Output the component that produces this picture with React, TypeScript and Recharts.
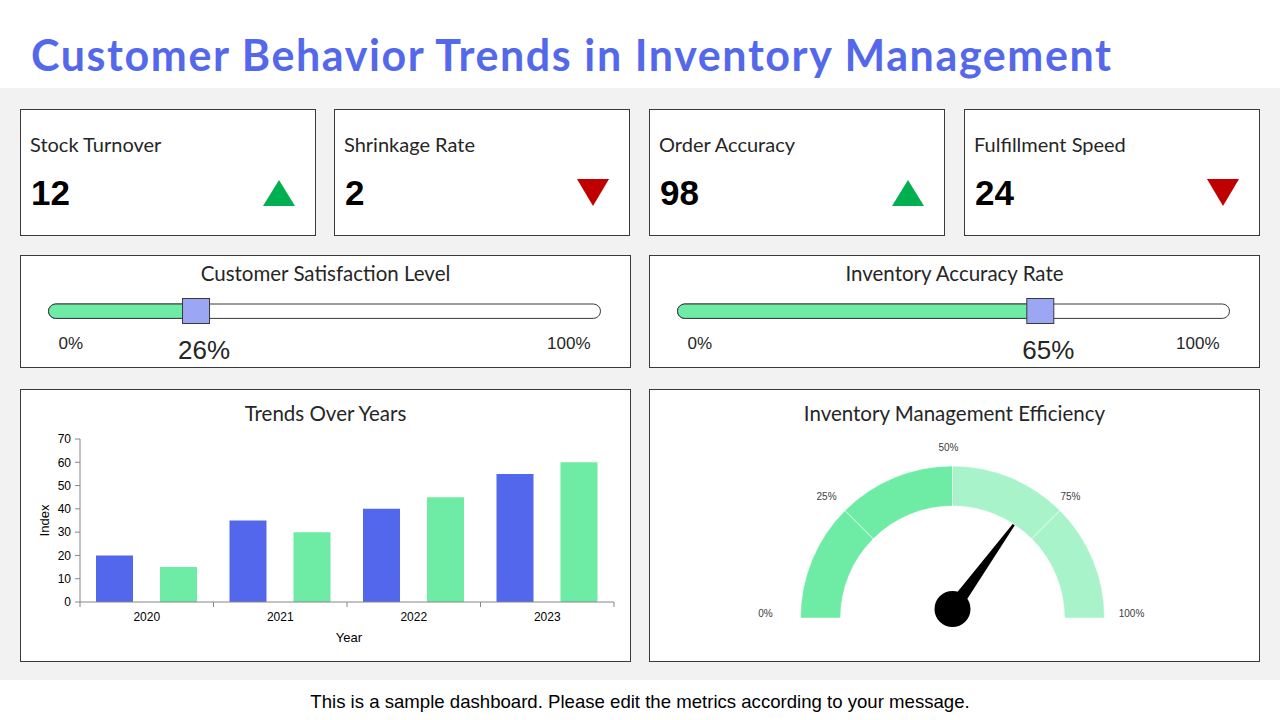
import React from "react";
import {
  Bar,
  BarChart,
  Cell,
  Customized,
  Pie,
  PieChart,
  ReferenceDot,
  XAxis,
  YAxis,
} from "recharts";

const TITLE = "Customer Behavior Trends in Inventory Management";
const FOOTER =
  "This is a sample dashboard. Please edit the metrics according to your message.";

const KPI_LABELS = ["Stock Turnover", "Shrinkage Rate", "Order Accuracy", "Fulfillment Speed"];
const KPI_VALUES = [12, 2, 98, 24];
const KPI_TRENDS = ["up", "down", "up", "down"];

const SLIDER_TITLES = ["Customer Satisfaction Level", "Inventory Accuracy Rate"];
const SLIDER_VALUES = [26, 65];
const SLIDER_TICKS = [0, 100];

const YEARS = ["2020", "2021", "2022", "2023"];
const SERIES_BLUE = [20, 35, 40, 55];
const SERIES_GREEN = [15, 30, 45, 60];
const Y_TICKS = [0, 10, 20, 30, 40, 50, 60, 70];

const GAUGE_BANDS = [25, 25, 25, 25];
const GAUGE_TICKS = [0, 25, 50, 75, 100];
const GAUGE_VALUE = 70;

const BLUE = "#5367EC";
const GREEN = "#6EEBA5";
const LIGHT_GREEN = "#A9F3CA";
const THUMB = "#9BA6F5";
const BORDER = "#3A3A3A";
const AXIS = "#868686";
const TXT = "#262626";
const LABEL_FONT = "Lato, 'Open Sans', sans-serif";
const NUM_FONT = "'Liberation Sans', Arial, sans-serif";

const KPI_LEFT = [20, 334, 649, 964];
const COL_LEFT = [20, 649];

const barData = YEARS.map((year, i) => ({
  year,
  blue: SERIES_BLUE[i],
  green: SERIES_GREEN[i],
}));

const gaugeData = GAUGE_BANDS.map((v, i) => ({ name: `b${i}`, value: v }));
const GAUGE_COLORS = [GREEN, GREEN, LIGHT_GREEN, LIGHT_GREEN];
const GAUGE_CX = 303.5;
const GAUGE_CY = 229;

function Card({ left, top, width, height, children }: any) {
  return (
    <div
      style={{
        position: "absolute",
        left,
        top,
        width,
        height,
        boxSizing: "border-box",
        border: `1px solid ${BORDER}`,
        background: "#fff",
      }}
    >
      {children}
    </div>
  );
}

function KpiCard({ i }: { i: number }) {
  const up = KPI_TRENDS[i] === "up";
  return (
    <Card left={KPI_LEFT[i]} top={109} width={296} height={127}>
      <svg width={294} height={125} style={{ position: "absolute", left: 0, top: 0 }}>
        <text x={9} y={42} fontFamily={LABEL_FONT} fontSize={20} fill={TXT}>
          {KPI_LABELS[i]}
        </text>
        <text x={10} y={95} fontFamily={NUM_FONT} fontWeight="bold" fontSize={35} fill="#000">
          {KPI_VALUES[i]}
        </text>
        {up ? (
          <polygon points="242,96 258,70 274,96" fill="#00B050" />
        ) : (
          <polygon points="242,69 274,69 258,96" fill="#C00000" />
        )}
      </svg>
    </Card>
  );
}

function CardTitle({ text, y }: { text: string; y: number }) {
  return (
    <div
      style={{
        position: "absolute",
        left: 0,
        right: 0,
        top: y,
        textAlign: "center",
        fontFamily: LABEL_FONT,
        fontSize: 20.5,
        lineHeight: "20px",
        color: TXT,
      }}
    >
      {text}
    </div>
  );
}

function SliderTick(props: any) {
  const { x, y, payload } = props;
  const first = payload.value === 0;
  return (
    <text
      x={first ? x + 10 : x - 10}
      y={y + 24}
      textAnchor={first ? "start" : "end"}
      dominantBaseline="central"
      fontFamily={NUM_FONT}
      fontSize={17}
      fill={TXT}
    >
      {payload.value}%
    </text>
  );
}

function Slider({ i }: { i: number }) {
  const value = SLIDER_VALUES[i];
  const data = [{ name: "s", value }];
  return (
    <div style={{ position: "absolute", left: COL_LEFT[i], top: 255 }}>
      <Card left={0} top={0} width={611} height={113}>
        <CardTitle text={SLIDER_TITLES[i]} y={7} />
      </Card>
      <div style={{ position: "absolute", left: 0, top: 0 }}>
        <BarChart
          width={610}
          height={113}
          layout="vertical"
          data={data}
          margin={{ top: 48, right: 29.5, bottom: 9, left: 28.5 }}
        >
          <XAxis
            type="number"
            domain={[0, 100]}
            ticks={SLIDER_TICKS}
            axisLine={false}
            tickLine={false}
            tickSize={0}
            tickMargin={0}
            height={40}
            tick={<SliderTick />}
          />
          <YAxis type="category" dataKey="name" hide width={0} />
          <Bar
            dataKey="value"
            barSize={16}
            fill={GREEN}
            stroke={BORDER}
            strokeWidth={1}
            radius={[8, 0, 0, 8]}
            background={{ fill: "#fff", stroke: BORDER, strokeWidth: 1, radius: 8 }}
            isAnimationActive={false}
          />
          <ReferenceDot
            x={value}
            y="s"
            ifOverflow="visible"
            shape={(p: any) => (
              <g>
                <rect
                  x={p.cx - 9.5}
                  y={p.cy - 12.5}
                  width={27}
                  height={25}
                  fill={THUMB}
                  stroke={BORDER}
                  strokeWidth={1}
                />
                <text
                  x={p.cx + 12}
                  y={p.cy + 39}
                  textAnchor="middle"
                  dominantBaseline="central"
                  fontFamily={NUM_FONT}
                  fontSize={26}
                  fill={TXT}
                >
                  {value}%
                </text>
              </g>
            )}
          />
        </BarChart>
      </div>
    </div>
  );
}

function YearTick(props: any) {
  const { x, y, payload, index, visibleTicksCount } = props;
  const half = payload?.offset || 66.75;
  const last = index === (visibleTicksCount || YEARS.length) - 1;
  return (
    <g>
      <line x1={x - half} x2={x - half} y1={y} y2={y + 5} stroke={AXIS} />
      {last && <line x1={x + half} x2={x + half} y1={y} y2={y + 5} stroke={AXIS} />}
      <text
        x={x}
        y={y + 15}
        textAnchor="middle"
        dominantBaseline="central"
        fontFamily={NUM_FONT}
        fontSize={12}
        fill="#000"
      >
        {payload.value}
      </text>
    </g>
  );
}

function TrendsChart() {
  return (
    <div style={{ position: "absolute", left: 20, top: 389 }}>
      <Card left={0} top={0} width={611} height={273}>
        <CardTitle text="Trends Over Years" y={13} />
      </Card>
      <div style={{ position: "absolute", left: 0, top: 0 }}>
        <BarChart
          width={610}
          height={272}
          data={barData}
          margin={{ top: 50, right: 16, bottom: 0, left: 0 }}
          barSize={37}
          barGap={27}
        >
          <XAxis
            dataKey="year"
            height={59}
            axisLine={{ stroke: AXIS }}
            tickLine={false}
            tickSize={0}
            tickMargin={0}
            interval={0}
            tick={<YearTick />}
            label={(p: any) => {
              const vb = p.viewBox;
              return (
                <text
                  x={vb.x + vb.width / 2 + 2}
                  y={vb.y + 35}
                  textAnchor="middle"
                  dominantBaseline="central"
                  fontFamily={NUM_FONT}
                  fontSize={13}
                  fill="#000"
                >
                  Year
                </text>
              );
            }}
          />
          <YAxis
            width={60}
            domain={[0, 70]}
            ticks={Y_TICKS}
            interval={0}
            axisLine={{ stroke: AXIS }}
            tickLine={{ stroke: AXIS }}
            tickSize={5}
            tickMargin={4}
            tick={{ fontFamily: NUM_FONT, fontSize: 12, fill: "#000" }}
            label={(p: any) => {
              const vb = p.viewBox;
              const lx = vb.x + 24.5;
              const ly = vb.y + vb.height / 2;
              return (
                <text
                  x={lx}
                  y={ly}
                  transform={`rotate(-90 ${lx} ${ly})`}
                  textAnchor="middle"
                  dominantBaseline="central"
                  fontFamily={NUM_FONT}
                  fontSize={13}
                  fill="#000"
                >
                  Index
                </text>
              );
            }}
          />
          <Bar dataKey="blue" fill={BLUE} isAnimationActive={false} />
          <Bar dataKey="green" fill={GREEN} isAnimationActive={false} />
        </BarChart>
      </div>
    </div>
  );
}

function GaugeExtras() {
  const hubX = GAUGE_CX;
  const hubY = GAUGE_CY - 9;
  const ang = (Math.PI * (100 - GAUGE_VALUE)) / 100;
  const len = 126;
  const w = 7;
  const tipX = hubX + len * Math.cos(ang);
  const tipY = hubY - len * Math.sin(ang);
  const px = Math.sin(ang) * w;
  const py = Math.cos(ang) * w;
  return (
    <g>
      {GAUGE_TICKS.map((t) => {
        const a = (Math.PI * (100 - t)) / 100;
        const c = Math.cos(a);
        const x = GAUGE_CX - 4 + (171 + 12 * Math.pow(c, 6)) * c;
        const y = GAUGE_CY - 4.5 - 166 * Math.sin(a);
        return (
          <text
            key={t}
            x={x}
            y={y}
            textAnchor="middle"
            dominantBaseline="central"
            fontFamily={NUM_FONT}
            fontSize={10}
            fill="#404040"
          >
            {t}%
          </text>
        );
      })}
      <polygon
        points={`${tipX},${tipY} ${hubX + px},${hubY + py} ${hubX - px},${hubY - py}`}
        fill="#000"
      />
      <circle cx={hubX} cy={hubY} r={18} fill="#000" />
    </g>
  );
}

function GaugeChart() {
  return (
    <div style={{ position: "absolute", left: 649, top: 389 }}>
      <Card left={0} top={0} width={611} height={273}>
        <CardTitle text="Inventory Management Efficiency" y={13} />
      </Card>
      <div style={{ position: "absolute", left: 0, top: 0 }}>
        <PieChart width={611} height={272} margin={{ top: 0, right: 0, bottom: 0, left: 0 }}>
          <Pie
            data={gaugeData}
            dataKey="value"
            cx={GAUGE_CX}
            cy={GAUGE_CY}
            startAngle={180}
            endAngle={0}
            innerRadius={112}
            outerRadius={152}
            stroke="rgba(255,255,255,0.5)"
            strokeWidth={1}
            isAnimationActive={false}
          >
            {gaugeData.map((d, i) => (
              <Cell key={d.name} fill={GAUGE_COLORS[i]} />
            ))}
          </Pie>
          <Customized component={<GaugeExtras />} />
        </PieChart>
      </div>
    </div>
  );
}

export default function App() {
  return (
    <div
      style={{
        position: "absolute",
        left: 0,
        top: 0,
        width: 1280,
        height: 720,
        background: "#F2F2F2",
        overflow: "hidden",
      }}
    >
      <div style={{ position: "absolute", left: 0, top: 0, width: 1280, height: 88, background: "#fff" }} />
      <div
        style={{
          position: "absolute",
          left: 31,
          top: 32.5,
          fontFamily: LABEL_FONT,
          fontWeight: "bold",
          fontSize: 43,
          letterSpacing: 1.6,
          lineHeight: 1,
          color: "#5468EB",
          whiteSpace: "nowrap",
        }}
      >
        {TITLE}
      </div>

      {KPI_LABELS.map((_, i) => (
        <KpiCard key={i} i={i} />
      ))}
      <Slider i={0} />
      <Slider i={1} />
      <TrendsChart />
      <GaugeChart />

      <div style={{ position: "absolute", left: 0, top: 680, width: 1280, height: 40, background: "#fff" }} />
      <div
        style={{
          position: "absolute",
          left: 0,
          top: 692,
          width: 1280,
          textAlign: "center",
          fontFamily: NUM_FONT,
          fontSize: 18.6,
          lineHeight: "20px",
          color: "#000",
        }}
      >
        {FOOTER}
      </div>
    </div>
  );
}
